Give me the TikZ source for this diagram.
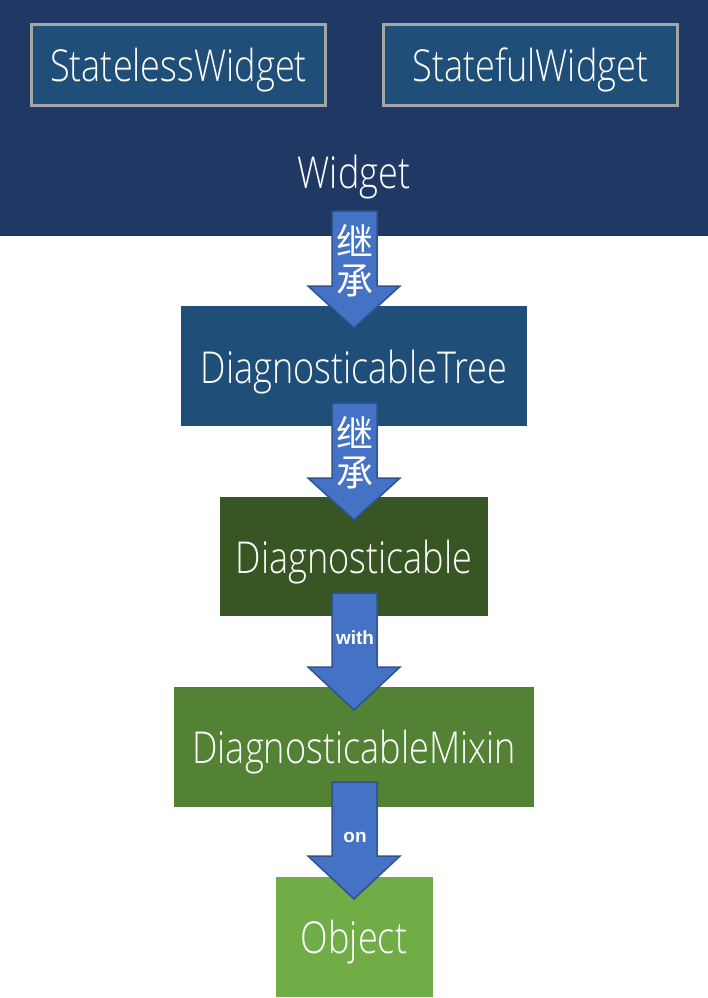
\documentclass[tikz,border=0pt]{standalone}
\usepackage{fontspec}
\setmainfont{Open Sans}[UprightFont=* Light]
\newfontfamily\cjk{Noto Sans CJK SC}
\newfontfamily\arialb{Liberation Sans}[UprightFont=* Bold]
\usepackage{graphicx}
\definecolor{navy}{HTML}{203864}
\definecolor{boxblue}{HTML}{1F4E79}
\definecolor{dgreen}{HTML}{375623}
\definecolor{mgreen}{HTML}{548235}
\definecolor{lgreen}{HTML}{70AD47}
\definecolor{arrfill}{HTML}{4472C4}
\definecolor{arrline}{HTML}{2F528F}
\definecolor{gborder}{HTML}{A5A5A5}
\newcommand{\nar}[1]{\scalebox{0.82}[1]{#1}}
\tikzset{
  lbl/.style={text=white, font=\fontsize{44}{44}\selectfont, inner sep=0pt},
  blk/.style={draw=arrline, fill=arrfill, line width=1.5pt, line join=miter},
  cjklbl/.style={text=white, font=\cjk\fontsize{37}{37}\selectfont, inner sep=0pt},
  smalllbl/.style={text=white, font=\arialb\fontsize{19}{19}\selectfont, inner sep=0pt}
}
\begin{document}
\begin{tikzpicture}[x=1pt,y=-1pt]
\useasboundingbox (0,0) rectangle (708,998);
\fill[white] (0,0) rectangle (708,998);
% Widget band
\fill[navy] (0,0) rectangle (708,236);
\node[lbl, anchor=center] (widget) at (354,177) {\nar{Widget}};
\draw[gborder, line width=3pt, fill=boxblue] (31.5,24.5) rectangle (325.5,105.5);
\node[lbl] (stateless) at (178.5,70) {\nar{StatelessWidget}};
\draw[gborder, line width=3pt, fill=boxblue] (383.5,24.5) rectangle (677.5,105.5);
\node[lbl] (stateful) at (530.5,70) {\nar{StatefulWidget}};
% other boxes
\fill[boxblue] (181,306) rectangle (527,426);
\node[lbl] (tree) at (354,372) {\nar{DiagnosticableTree}};
\fill[dgreen] (220,497) rectangle (488,616);
\node[lbl] (diag) at (354,562) {\nar{Diagnosticable}};
\fill[mgreen] (174,687) rectangle (534,807);
\node[lbl] (mixin) at (354,752) {\nar{DiagnosticableMixin}};
\fill[lgreen] (276,877) rectangle (433,997);
\node[lbl] (object) at (354,942) {\nar{Object}};
% block arrows
\draw[blk] (332,211) -- (377,211) -- (377,286) -- (400,286) -- (354,328) -- (308,286) -- (332,286) -- cycle;
\node[cjklbl] (a1a) at (354.5,240) {继};
\node[cjklbl] (a1b) at (354.5,281) {承};
\draw[blk] (332,403) -- (377,403) -- (377,478) -- (400,478) -- (354,520) -- (308,478) -- (332,478) -- cycle;
\node[cjklbl] (a2a) at (354.5,432) {继};
\node[cjklbl] (a2b) at (354.5,473) {承};
\draw[blk] (332,593) -- (377,593) -- (377,667) -- (400,667) -- (354,710) -- (308,667) -- (332,667) -- cycle;
\node[smalllbl] (with) at (355,638) {with};
\draw[blk] (332,782) -- (377,782) -- (377,856) -- (400,856) -- (354,899) -- (308,856) -- (332,856) -- cycle;
\node[smalllbl] (on) at (355,837) {on};
\end{tikzpicture}
\end{document}
